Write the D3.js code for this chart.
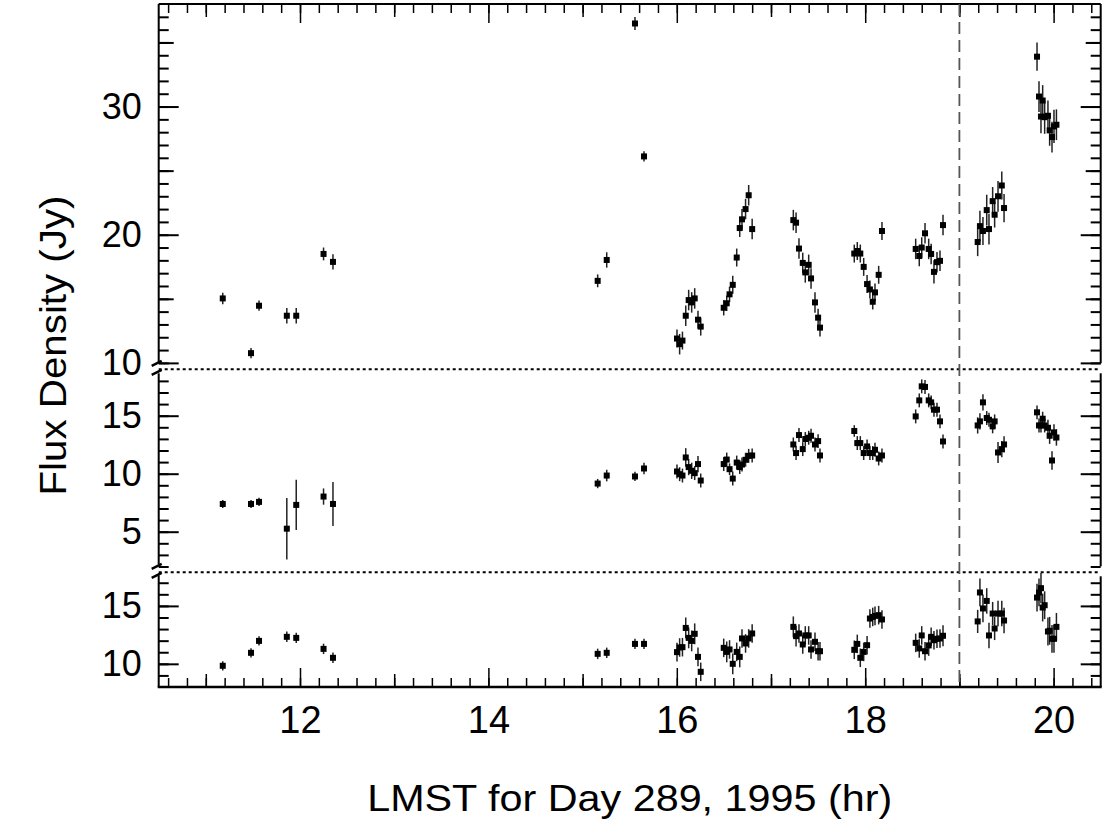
<!DOCTYPE html>
<html>
<head>
<meta charset="utf-8">
<script src="https://cdn.jsdelivr.net/npm/d3@7"></script>
<style>
  body { margin: 0; background: #fff; }
  svg text { font-family: "Liberation Sans", Arial, Helvetica, sans-serif; fill: #000; }
</style>
</head>
<body>
<svg id="chart" width="1106" height="825"></svg>
<script>
// LMST hours of each scan (shared by the three panels)
const hours = [
  11.18, 11.48, 11.565, 11.86, 11.96, 12.25, 12.35,
  15.16, 15.256, 15.556, 15.652,
  16.002, 16.03, 16.06, 16.095, 16.126, 16.158, 16.19, 16.225, 16.254,
  16.498, 16.53, 16.56, 16.594, 16.636, 16.668, 16.692, 16.73, 16.763, 16.8,
  17.237, 17.266, 17.297, 17.337, 17.364, 17.40, 17.425, 17.467, 17.5, 17.52,
  17.884, 17.916, 17.948, 17.984, 18.02, 18.05, 18.08, 18.104, 18.143, 18.178,
  18.536, 18.574, 18.6, 18.635, 18.674, 18.70, 18.73, 18.762, 18.794, 18.826,
  19.194, 19.218, 19.25, 19.29, 19.314, 19.353, 19.374, 19.41, 19.45, 19.474,
  19.824, 19.845, 19.866, 19.884, 19.905, 19.94, 19.958, 19.983, 20.004, 20.03
];

// top panel flux (Jy) and errors
const fluxTop = [
  15.03, 10.76, 14.46, 13.68, 13.68, 18.5, 17.88,
  16.40, 18.03, 36.48, 26.11,
  11.90, 11.46, 11.74, 13.68, 14.9, 14.72, 15.03, 13.37, 12.83,
  14.3, 14.65, 15.35, 16.09, 18.22, 20.52, 21.2, 22.0, 23.08, 20.44,
  21.14, 20.94, 18.92, 17.8, 17.06, 17.65, 16.59, 14.72, 13.53, 12.75,
  18.53, 18.73, 18.53, 17.49, 16.15, 15.73, 14.77, 15.5, 16.87, 20.29,
  18.89, 18.34, 19.0, 20.11, 18.89, 18.5, 17.1, 17.86, 17.96, 20.75,
  19.43, 20.67, 20.29, 21.92, 20.44, 22.62, 21.56, 23.0, 23.84, 22.08,
  33.89, 30.78, 29.22, 30.47, 29.17, 29.28, 28.14, 27.62, 28.45, 28.58
];
const errTop = [
  0.45, 0.4, 0.4, 0.6, 0.6, 0.5, 0.6,
  0.5, 0.6, 0.5, 0.4,
  0.7, 0.8, 0.7, 0.8, 0.8, 0.8, 0.8, 0.7, 0.7,
  0.6, 0.6, 0.6, 0.7, 0.7, 0.7, 0.8, 0.8, 0.8, 0.8,
  0.8, 0.8, 0.8, 0.8, 0.8, 0.8, 0.8, 0.8, 0.7, 0.7,
  0.7, 0.7, 0.7, 0.7, 0.7, 0.7, 0.6, 0.7, 0.7, 0.7,
  0.8, 0.8, 0.8, 0.8, 0.8, 0.8, 0.9, 0.8, 0.8, 0.8,
  1.1, 1.2, 1.1, 1.2, 1.2, 1.1, 1.0, 1.2, 1.1, 1.1,
  1.1, 1.2, 1.3, 1.2, 1.3, 1.2, 1.2, 1.2, 1.3, 1.2
];

// middle panel
const fluxMid = [
  7.39, 7.39, 7.57, 5.26, 7.31, 8.03, 7.39,
  9.15, 9.84, 9.76, 10.45,
  10.19, 9.96, 9.84, 11.4, 10.57, 10.25, 10.05, 10.83, 9.41,
  10.83, 11.22, 10.39, 9.58, 10.96, 10.57, 10.79, 11.2, 11.54, 11.57,
  12.52, 11.78, 13.33, 12.12, 12.99, 13.1, 13.27, 12.52, 12.81, 11.57,
  13.68, 12.64, 12.64, 11.78, 12.35, 11.78, 11.78, 12.06, 11.31, 11.57,
  14.94, 16.32, 17.53, 17.48, 16.32, 16.15, 15.52, 15.52, 14.51, 12.78,
  14.16, 14.51, 16.15, 14.8, 14.65, 14.08, 14.51, 11.83, 12.12, 12.52,
  15.29, 14.16, 14.16, 14.74, 14.16, 13.96, 13.27, 11.14, 13.56, 13.12
];
const errMid = [
  0.35, 0.35, 0.35, 2.65, 2.16, 0.7, 1.9,
  0.4, 0.5, 0.4, 0.5,
  0.6, 0.6, 0.6, 0.8, 0.7, 0.7, 0.6, 0.7, 0.6,
  0.6, 0.6, 0.5, 0.6, 0.6, 0.6, 0.6, 0.6, 0.6, 0.6,
  0.6, 0.6, 0.6, 0.6, 0.6, 0.6, 0.6, 0.6, 0.6, 0.6,
  0.5, 0.6, 0.6, 0.6, 0.6, 0.6, 0.6, 0.6, 0.6, 0.6,
  0.6, 0.6, 0.6, 0.6, 0.6, 0.6, 0.6, 0.6, 0.6, 0.6,
  0.7, 0.7, 0.7, 0.6, 0.6, 0.6, 0.6, 0.9, 0.7, 0.7,
  0.6, 0.6, 0.6, 0.6, 0.6, 0.7, 0.7, 0.8, 0.7, 0.7
];

// bottom panel
const fluxBot = [
  9.83, 10.95, 11.98, 12.33, 12.24, 11.29, 10.52,
  10.86, 10.95, 11.72, 11.72,
  11.01, 11.41, 11.44, 13.1, 12.24, 11.98, 12.59, 10.6, 9.31,
  11.38, 11.03, 11.24, 10.0, 11.03, 10.6, 12.19, 11.76, 12.19, 12.62,
  13.19, 12.39, 12.62, 11.67, 12.45, 12.45, 11.24, 11.9, 11.09, 11.09,
  11.21, 11.72, 10.52, 11.03, 11.61, 13.91, 14.05, 14.14, 14.2, 13.83,
  11.81, 11.33, 12.45, 11.09, 11.59, 12.33, 12.04, 12.16, 12.19, 12.42,
  13.66, 16.16, 14.78, 15.43, 12.45, 14.34, 13.05, 14.34, 14.34, 13.74,
  15.72, 16.16, 16.53, 14.86, 15.06, 12.79, 12.85, 12.16, 12.16, 13.19
];
const errBot = [
  0.4, 0.4, 0.4, 0.45, 0.45, 0.45, 0.45,
  0.45, 0.45, 0.45, 0.45,
  0.8, 0.8, 0.8, 0.9, 0.9, 0.9, 0.9, 0.8, 0.8,
  0.8, 0.9, 0.8, 0.9, 0.8, 0.9, 0.8, 0.8, 0.8, 0.8,
  0.9, 0.9, 0.8, 0.8, 0.8, 0.8, 0.8, 0.8, 0.8, 0.8,
  0.8, 0.8, 0.8, 0.8, 0.8, 0.8, 0.8, 0.8, 0.8, 0.8,
  0.8, 0.8, 0.8, 0.8, 0.9, 0.8, 0.8, 0.8, 0.8, 0.9,
  1.0, 1.2, 1.2, 1.1, 1.1, 1.0, 1.0, 1.1, 1.1, 1.1,
  1.2, 1.2, 1.3, 1.2, 1.2, 1.2, 1.2, 1.2, 1.2, 1.2
];

// tick labels
const xTickLabels = [12, 14, 16, 18, 20];
const xMidTicks = [11, 13, 15, 17, 19];
const topLabels = [10, 20, 30];
const midLabels = [5, 10, 15];
const botLabels = [10, 15];
const markerHour = 19.0;

const plotL = 158.7, plotR = 1100.7, plotT = 4, plotB = 687;
const breakHi = 369.3, breakLo = 572.3;

const svg = d3.select("#chart");

const x = d3.scaleLinear().domain([10.5, 20.5]).range([plotL, plotR]);

const panels = [
  {flux: fluxTop, err: errTop, labels: topLabels, medium: [15, 25, 35], minor: d3.range(10, 38),
   y: d3.scaleLinear().domain([9.5, 38]).range([breakHi, plotT])},
  {flux: fluxMid, err: errMid, labels: midLabels, medium: [], minor: d3.range(2, 19),
   y: d3.scaleLinear().domain([1.5, 19]).range([breakLo, breakHi])},
  {flux: fluxBot, err: errBot, labels: botLabels, medium: [], minor: d3.range(9, 18),
   y: d3.scaleLinear().domain([8, 17.9]).range([plotB, breakLo])}
];

function cleanAxis(g) {
  g.select(".domain").remove();
  g.attr("font-size", null).attr("font-family", null);
}

function yTicks(scale, vals, len, withLabels) {
  const axL = d3.axisLeft(scale).tickValues(vals).tickSize(-len).tickPadding(17)
    .tickFormat(withLabels ? d3.format("d") : "");
  const axR = d3.axisRight(scale).tickValues(vals).tickSize(-len).tickFormat("");
  svg.append("g").attr("transform", `translate(${plotL},0)`).call(axL).call(cleanAxis)
    .call(g => g.selectAll("line").attr("stroke-width", 2))
    .call(g => g.selectAll("text").attr("font-size", 36));
  svg.append("g").attr("transform", `translate(${plotR},0)`).call(axR).call(cleanAxis)
    .call(g => g.selectAll("line").attr("stroke-width", 2));
}

function xTicks(vals, len, withLabels) {
  const axB = d3.axisBottom(x).tickValues(vals).tickSize(-len).tickPadding(19)
    .tickFormat(withLabels ? d3.format("d") : "");
  const axT = d3.axisTop(x).tickValues(vals).tickSize(-len).tickFormat("");
  svg.append("g").attr("transform", `translate(0,${plotB})`).call(axB).call(cleanAxis)
    .call(g => g.selectAll("line").attr("stroke-width", 1.5))
    .call(g => g.selectAll("text").attr("font-size", 38));
  svg.append("g").attr("transform", `translate(0,${plotT})`).call(axT).call(cleanAxis)
    .call(g => g.selectAll("line").attr("stroke-width", 1.5));
}

// x ticks: minor every 0.2 h, medium at odd hours, long at even hours
xTicks(d3.range(53, 103).map(i => i / 5), 9, false);
xTicks(xMidTicks, 13, false);
xTicks(xTickLabels, 19, true);

panels.forEach(p => {
  yTicks(p.y, p.minor, 10, false);
  if (p.medium.length) yTicks(p.y, p.medium, 15, false);
  yTicks(p.y, p.labels, 20, true);
});

// frame with breaks
const frame = svg.append("g").attr("stroke", "#000").attr("stroke-width", 2).attr("fill", "none");
frame.append("line").attr("x1", plotL).attr("x2", plotR).attr("y1", plotT).attr("y2", plotT);
frame.append("line").attr("x1", plotL - 1).attr("x2", plotR + 1).attr("y1", plotB).attr("y2", plotB)
  .attr("stroke-width", 2.5);

const leftSegs = [[plotT, breakHi - 7], [breakHi + 4, breakLo - 8], [breakLo + 3, plotB]];
leftSegs.forEach(s => frame.append("line").attr("x1", plotL).attr("x2", plotL).attr("y1", s[0]).attr("y2", s[1]));
const rightSegs = [[plotT, breakHi - 6], [breakHi + 4, breakLo - 6], [breakLo + 4, plotB]];
rightSegs.forEach(s => frame.append("line").attr("x1", plotR).attr("x2", plotR).attr("y1", s[0]).attr("y2", s[1]));

[breakHi, breakLo].forEach(b => {
  [-6, 3].forEach(off => {
    frame.append("line")
      .attr("x1", plotL - 7).attr("y1", b + off + 2.5)
      .attr("x2", plotL + 3).attr("y2", b + off - 2.5)
      .attr("stroke-width", 2.5);
  });
  svg.append("line").attr("x1", plotL).attr("x2", plotR).attr("y1", b).attr("y2", b)
    .attr("stroke", "#000").attr("stroke-width", 2).attr("stroke-dasharray", "3,3");
});

// dashed marker line
svg.append("line")
  .attr("x1", x(markerHour)).attr("x2", x(markerHour)).attr("y1", plotT).attr("y2", plotB)
  .attr("stroke", "#555").attr("stroke-width", 1.8).attr("stroke-dasharray", "12,6");

// points with error bars
panels.forEach(p => {
  const pts = hours.map((h, i) => ({h: h, v: p.flux[i], e: p.err[i]}));
  const g = svg.append("g");
  g.selectAll("line.err").data(pts).join("line").attr("class", "err")
    .attr("x1", d => x(d.h)).attr("x2", d => x(d.h))
    .attr("y1", d => p.y(d.v - d.e)).attr("y2", d => p.y(d.v + d.e))
    .attr("stroke", "#222").attr("stroke-width", 1.5);
  g.selectAll("rect").data(pts).join("rect")
    .attr("x", d => x(d.h) - 3).attr("y", d => p.y(d.v) - 3)
    .attr("width", 6).attr("height", 6).attr("fill", "#000");
});

// axis titles
svg.append("text")
  .attr("transform", "translate(66,345.5) rotate(-90)")
  .attr("text-anchor", "middle").attr("font-size", 37)
  .attr("textLength", 300).attr("lengthAdjust", "spacingAndGlyphs")
  .text("Flux Density (Jy)");

svg.append("text")
  .attr("x", (plotL + plotR) / 2).attr("y", 810.7)
  .attr("text-anchor", "middle").attr("font-size", 37)
  .attr("textLength", 525).attr("lengthAdjust", "spacingAndGlyphs")
  .text("LMST for Day 289, 1995 (hr)");
</script>
</body>
</html>
